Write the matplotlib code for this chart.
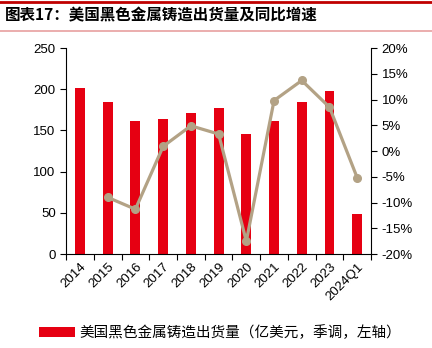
import numpy as np
import matplotlib
matplotlib.use("Agg")
import matplotlib.pyplot as plt
from matplotlib.ticker import FuncFormatter

plt.rcParams['font.family'] = ['Liberation Sans', 'Noto Sans CJK SC']

# data
years = ['2014', '2015', '2016', '2017', '2018', '2019', '2020', '2021', '2022', '2023', '2024Q1']
shipments = [201, 184, 162, 164, 171.5, 177, 146, 161, 184, 198, 49]
yoy = [np.nan, -9.0, -11.3, 0.9, 4.9, 3.3, -17.5, 9.8, 13.7, 8.5, -5.2]

title = '图表17：美国黑色金属铸造出货量及同比增速'
bar_label = '美国黑色金属铸造出货量（亿美元，季调，左轴）'

bar_color = '#E60012'
line_color = '#B3A285'

fig = plt.figure(figsize=(4.32, 3.48), dpi=100)
ax = fig.add_axes([0.153, 0.270, 0.706, 0.592])
ax2 = ax.twinx()

x = np.arange(len(years))
ax.bar(x, shipments, width=0.36, color=bar_color, label=bar_label, zorder=2)
ax2.plot(x, yoy, color=line_color, lw=2.3, marker='o', ms=5.5, zorder=3)

ax.set_xlim(-0.5, len(years) - 0.5)
ax.set_ylim(0, 250)
ax.set_yticks(np.arange(0, 251, 50))
ax2.set_ylim(-20, 20)
ax2.set_yticks(np.arange(-20, 21, 5))
ax2.yaxis.set_major_formatter(FuncFormatter(lambda v, p: '%d%%' % v))

ax.set_xticks(x)
ax.set_xticklabels(years, rotation=45, ha='right', rotation_mode='anchor', fontsize=9.5)
ax.set_xticks(np.arange(-0.5, len(years), 1), minor=True)
ax.tick_params(axis='x', which='major', length=0, pad=5)
ax.tick_params(axis='x', which='minor', length=4, width=0.8)
ax.tick_params(axis='y', labelsize=9.5, length=4, width=0.8)
ax2.tick_params(axis='y', labelsize=9.5, length=4, width=0.8)

for a in (ax, ax2):
    a.spines['top'].set_visible(False)
ax.spines['right'].set_visible(False)
ax2.spines['left'].set_visible(False)
ax2.spines['bottom'].set_visible(False)

# header lines and title
fig.add_artist(plt.Line2D([0, 1], [0.993, 0.993], color='#C00000', lw=2))
fig.add_artist(plt.Line2D([0, 1], [0.912, 0.912], color='#E8A0A0', lw=1.2))
fig.text(0.012, 0.955, title, fontsize=11.2, fontweight='bold', va='center', ha='left',
         family=['Noto Sans CJK SC'])

fig.legend(loc='center', bbox_to_anchor=(0.51, 0.043), frameon=False, fontsize=10.5,
           handlelength=2.5, handleheight=0.7, handletextpad=0.3)

fig.savefig('out.png', dpi=100)
